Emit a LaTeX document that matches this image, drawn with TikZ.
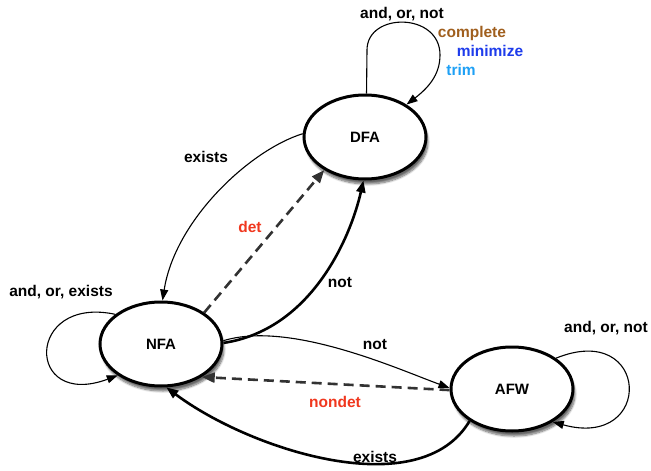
\documentclass[tikz,border=0pt]{standalone}
\usepackage{fontspec}
\setmainfont{Liberation Sans}
\usetikzlibrary{arrows.meta,shapes.geometric,shadows.blur}
\definecolor{cbrown}{RGB}{160,95,30}
\definecolor{cblue}{RGB}{30,60,235}
\definecolor{clight}{RGB}{30,160,245}
\definecolor{cred}{RGB}{240,55,30}
\definecolor{cdash}{RGB}{50,50,50}
\tikzset{
  state/.style={ellipse, draw=black, line width=3pt, fill=white,
    minimum width=122pt, minimum height=84pt, inner sep=0pt,
    font=\fontsize{15}{17}\selectfont\bfseries,
    blur shadow={shadow xshift=2pt, shadow yshift=-5pt, shadow blur steps=8, shadow opacity=60}},
  lbl/.style={font=\fontsize{15.5}{17}\selectfont\bfseries, inner sep=0pt},
  thinedge/.style={line width=1.1pt, -{Triangle[length=11pt,width=8pt]}},
  thickedge/.style={line width=2.6pt, -{Triangle[length=12pt,width=9pt]}},
  dashedge/.style={line width=2.6pt, draw=cdash, dash pattern=on 10pt off 6pt, -{Triangle[length=13pt,width=10pt]}},
}
\begin{document}
\begin{tikzpicture}[x=1pt,y=-1pt]
\useasboundingbox (0,0) rectangle (651,471);
\node[state] (dfa) at (365,137) {DFA};
\node[state] (nfa) at (161,344) {NFA};
\node[state] (afw) at (512,389) {AFW};

% DFA self loop
\draw[thinedge] (dfa.88) -- (367,50) .. controls (367,12) and (440,12) .. (440,55) .. controls (440,75) and (428,88) .. (dfa.38);
% DFA -> NFA exists
\draw[thinedge] (dfa.177) .. controls (250,150) and (175,220) .. (nfa.88);
% NFA -> DFA det (dashed)
\draw[dashedge] (nfa.36) -- (dfa.219);
% NFA -> DFA not (thick)
\draw[thickedge] (nfa.1) .. controls (310,330) and (350,240) .. (dfa.268);
% NFA -> AFW not (thin)
\draw[thinedge] (nfa.3) .. controls (290,320) and (400,370) .. (afw.179);
% AFW -> NFA nondet (dashed)
\draw[dashedge] (afw.181) -- (nfa.-39);
% AFW -> NFA exists (thick)
\draw[thickedge] (afw.217) .. controls (420,505) and (250,450) .. (nfa.-83);
% NFA self loop
\draw[thinedge] (nfa.147) .. controls (25,295) and (25,410) .. (nfa.216);
% AFW self loop
\draw[thinedge] (afw.35) .. controls (650,320) and (655,450) .. (afw.-39);

% labels
\node[lbl] (l1) at (402,14) {and, or, not};
\node[lbl, text=cbrown] (l2) at (472,33) {complete};
\node[lbl, text=cblue] (l3) at (490,51) {minimize};
\node[lbl, text=clight] (l4) at (461,70) {trim};
\node[lbl] (l5) at (206,157) {exists};
\node[lbl, text=cred] (l6) at (250,227) {det};
\node[lbl] (l7) at (340,283) {not};
\node[lbl] (l8) at (61,292) {and, or, exists};
\node[lbl] (l9) at (375,345) {not};
\node[lbl, text=cred] (l10) at (335,402) {nondet};
\node[lbl] (l11) at (606,328) {and, or, not};
\node[lbl] (l12) at (375,457) {exists};
\end{tikzpicture}
\end{document}
